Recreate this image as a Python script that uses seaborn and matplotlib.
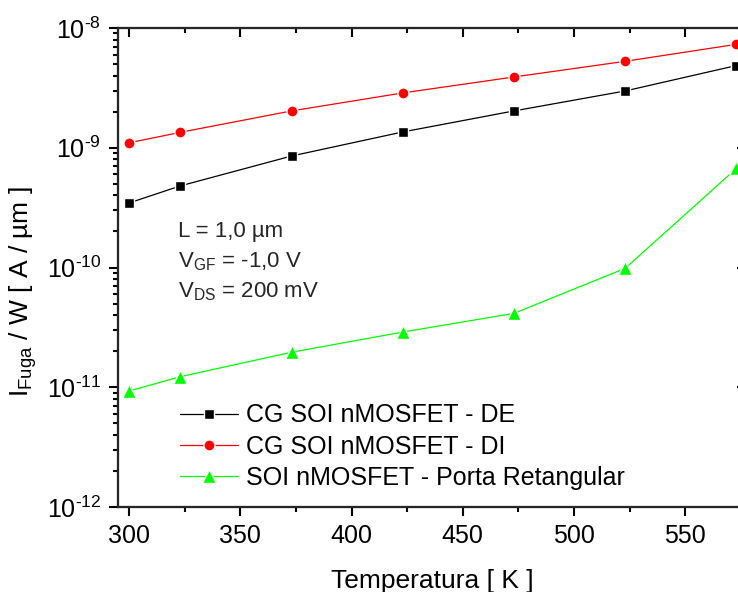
import numpy as np
import pandas as pd
import seaborn as sns
import matplotlib
matplotlib.use("Agg")
import matplotlib.pyplot as plt
from matplotlib.ticker import LogLocator, MultipleLocator, NullFormatter, FuncFormatter

# Temperature sweep [K]
temperatura = [300, 323, 373, 423, 473, 523, 573]

# Leakage current per width [A/um]
cg_de = [3.46e-10, 4.80e-10, 8.53e-10, 1.355e-9, 2.03e-9, 2.98e-9, 4.86e-9]
cg_di = [1.10e-9, 1.345e-9, 2.03e-9, 2.87e-9, 3.90e-9, 5.27e-9, 7.31e-9]
retangular = [9.31e-12, 1.225e-11, 1.96e-11, 2.89e-11, 4.14e-11, 9.84e-11, 6.73e-10]

labels = ["CG SOI nMOSFET - DE", "CG SOI nMOSFET - DI",
          "SOI nMOSFET - Porta Retangular"]

sns.set_theme(style="white")
plt.rcParams["font.family"] = ["Liberation Sans", "DejaVu Sans"]
plt.rcParams["mathtext.fontset"] = "custom"
plt.rcParams["mathtext.rm"] = "Liberation Sans"
plt.rcParams["mathtext.it"] = "Liberation Sans"
plt.rcParams["mathtext.default"] = "regular"

df = pd.DataFrame({
    "T": temperatura * 3,
    "I": cg_de + cg_di + retangular,
    "serie": [labels[0]] * 7 + [labels[1]] * 7 + [labels[2]] * 7,
})

fig = plt.figure(figsize=(7.38, 5.92), dpi=100)
W, H = 738, 592
ax = fig.add_axes([118 / W, 1 - 507 / H, (746 - 118) / W, (507 - 28) / H])

styles = [("black", "s", 7.0), ("red", "o", 8.0), ("#00ff00", "^", 9.5)]
handles = []
for lab, (col, mk, ms) in zip(labels, styles):
    sub = df[df["serie"] == lab]
    sns.lineplot(data=sub, x="T", y="I", ax=ax, color=col, marker=mk,
                 markersize=ms, markeredgecolor="white", markeredgewidth=1.0,
                 markerfacecolor=col, linewidth=0.9, label=lab, legend=False)
    handles.append(ax.lines[-1])

ax.set_yscale("log")
ax.set_xlim(295, 577.3)
ax.set_ylim(1e-12, 1e-8)

for s in ax.spines.values():
    s.set_linewidth(1.5)
    s.set_color("black")


def pow10(v, pos):
    e = int(round(np.log10(v)))
    sign = "\u2010" if e < 0 else ""
    return "$\\mathregular{10^{%s%d}}$" % (sign, abs(e))


ax.xaxis.set_major_locator(MultipleLocator(50))
ax.xaxis.set_minor_locator(MultipleLocator(25))
ax.yaxis.set_major_locator(LogLocator(base=10, numticks=10))
ax.yaxis.set_major_formatter(FuncFormatter(pow10))
ax.yaxis.set_minor_locator(LogLocator(base=10, subs=np.arange(2, 10), numticks=10))
ax.yaxis.set_minor_formatter(NullFormatter())

ax.tick_params(axis="both", which="both", direction="out", width=1.5,
               color="black", labelsize=18, labelcolor="black", pad=5.5)
ax.tick_params(axis="both", which="major", length=6.5)
ax.tick_params(axis="both", which="minor", length=3.8)
ax.tick_params(bottom=True, left=True, top=False, right=False)

# inward ticks on the top and right edges
axt = ax.twiny()
axt.set_xlim(ax.get_xlim())
axt.xaxis.set_major_locator(MultipleLocator(50))
axt.xaxis.set_minor_locator(MultipleLocator(25))
axt.xaxis.set_major_formatter(NullFormatter())
axt.tick_params(axis="x", which="both", direction="in", width=1.5, color="black",
                labeltop=False, labelbottom=False, top=True, bottom=False)
axt.tick_params(axis="x", which="major", length=6.5)
axt.tick_params(axis="x", which="minor", length=3.8)
axr = ax.twinx()
axr.set_yscale("log")
axr.set_ylim(ax.get_ylim())
axr.yaxis.set_major_locator(LogLocator(base=10, numticks=10))
axr.yaxis.set_minor_locator(LogLocator(base=10, subs=np.arange(2, 10), numticks=10))
axr.yaxis.set_major_formatter(NullFormatter())
axr.yaxis.set_minor_formatter(NullFormatter())
axr.tick_params(axis="y", which="both", direction="in", width=1.5, color="black",
                labelright=False, labelleft=False, right=True, left=False)
axr.tick_params(axis="y", which="major", length=6.5)
axr.tick_params(axis="y", which="minor", length=3.8)
for a in (axt, axr):
    for s in a.spines.values():
        s.set_linewidth(1.5)

ax.set_xlabel("Temperatura [ K ]", fontsize=19, color="black")
ax.xaxis.set_label_coords(0.5, -0.13)
ax.set_ylabel(r"$\mathrm{I_{Fuga}}$ / W [ A / µm ]", fontsize=19, color="black")
ax.yaxis.set_label_coords(-0.125, 0.449)

# device / bias conditions
tx = 178 / W
fig.text(tx, 1 - 237 / H, "L = 1,0 µm", fontsize=16, va="baseline")
fig.text(tx, 1 - 267 / H, r"$\mathrm{V_{GF}}$ = -1,0 V", fontsize=16, va="baseline")
fig.text(tx, 1 - 297 / H, r"$\mathrm{V_{DS}}$ = 200 mV", fontsize=16, va="baseline")

leg = ax.legend(handles=handles, labels=labels, loc="upper left",
                bbox_to_anchor=(180 / W, 1 - 403.5 / H), bbox_transform=fig.transFigure,
                frameon=False, fontsize=18, handlelength=2.3, handletextpad=0.35,
                labelspacing=0.29, borderpad=0, borderaxespad=0)
for t in leg.get_texts():
    t.set_color("black")

fig.savefig("out.png", dpi=100)
